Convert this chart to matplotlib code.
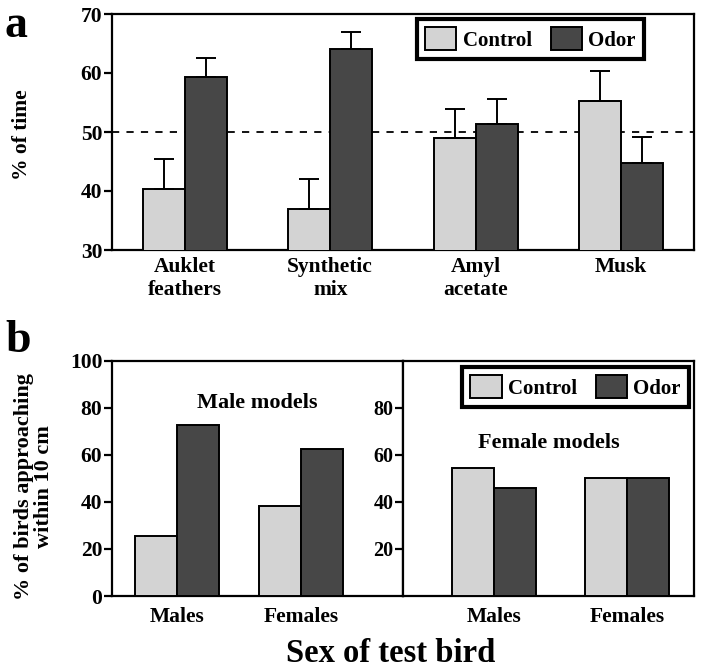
import numpy as np
import matplotlib
matplotlib.use("Agg")
import matplotlib.pyplot as plt

plt.rcParams['font.family'] = ['Liberation Serif', 'DejaVu Serif']
plt.rcParams['font.weight'] = 'bold'

# panel a data
odorants = ['Auklet\nfeathers', 'Synthetic\nmix', 'Amyl\nacetate', 'Musk']
ctrl_a = [40.3, 36.9, 48.9, 55.3]
ctrl_a_err = [5.2, 5.2, 5.0, 5.1]
odor_a = [59.3, 64.1, 51.3, 44.8]
odor_a_err = [3.2, 2.8, 4.3, 4.4]

# panel b data
sexes = ['Males', 'Females']
male_ctrl = [25.7, 38.3]
male_odor = [72.8, 62.4]
female_ctrl = [54.6, 50.4]
female_odor = [45.8, 50.4]

c_ctrl = '#d3d3d3'
c_odor = '#474747'
W, H = 701, 670

fig = plt.figure(figsize=(W / 100, H / 100), dpi=100)


def px_axes(x0, y0, x1, y1):
    return fig.add_axes([x0 / W, 1 - y1 / H, (x1 - x0) / W, (y1 - y0) / H])


def style(ax, lsize=15.5):
    for s in ax.spines.values():
        s.set_linewidth(1.6)
    ax.tick_params(axis='y', direction='out', length=6, width=1.6, labelsize=lsize, pad=1)
    ax.tick_params(axis='x', length=0, labelsize=15.5)


leg_kw = dict(ncol=2, fontsize=15, fancybox=False, edgecolor='black', handlelength=1.5,
              handleheight=1.3, handletextpad=0.3, columnspacing=0.9, borderpad=0.4,
              borderaxespad=0, framealpha=1)

# ---- panel a ----
ax = px_axes(112, 14, 694, 250)
x = np.arange(len(odorants)) + 0.5
bw = 0.29
ekw = dict(elinewidth=1.4, capthick=1.4, ecolor='black')
ax.bar(x - bw / 2, ctrl_a, bw, color=c_ctrl, edgecolor='black', linewidth=1.4,
       yerr=[np.zeros(4), ctrl_a_err], capsize=7, error_kw=ekw, label='Control', zorder=3)
ax.bar(x + bw / 2, odor_a, bw, color=c_odor, edgecolor='black', linewidth=1.4,
       yerr=[np.zeros(4), odor_a_err], capsize=7, error_kw=ekw, label='Odor', zorder=3)
ax.axhline(50, color='black', linestyle=(0, (4, 4)), linewidth=1.3, zorder=1)
ax.set_ylim(30, 70)
ax.set_xlim(0, 4)
ax.set_yticks([30, 40, 50, 60, 70])
ax.set_xticks(x)
ax.set_xticklabels(odorants, linespacing=1.2)
style(ax)
ax.tick_params(axis='x', pad=5)
leg = ax.legend(loc='upper right', bbox_to_anchor=(0.914, 0.979), **leg_kw)
leg.get_frame().set_linewidth(3)

fig.text(22 / W, 1 - 135 / H, '% of time', rotation=90, ha='center', va='center', fontsize=15.5)
fig.text(5 / W, 1 - 37 / H, 'a', fontsize=33, ha='left', va='baseline')

# ---- panel b, male models ----
axl = px_axes(112, 361, 403, 596)
xb = np.arange(len(sexes))
bwl = 0.339
axl.bar(xb - bwl / 2, male_ctrl, bwl, color=c_ctrl, edgecolor='black', linewidth=1.4, zorder=3)
axl.bar(xb + bwl / 2, male_odor, bwl, color=c_odor, edgecolor='black', linewidth=1.4, zorder=3)
axl.set_ylim(0, 100)
axl.set_xlim(-0.524, 1.823)
axl.set_yticks([0, 20, 40, 60, 80, 100])
axl.set_xticks(xb)
axl.set_xticklabels(sexes)
style(axl)
axl.tick_params(axis='x', pad=8)
axl.text(0.5, 0.82, 'Male models', transform=axl.transAxes, ha='center', va='center', fontsize=16)

# ---- panel b, female models ----
axr = px_axes(403, 361, 694, 596)
bwr = 0.316
axr.bar(xb - bwr / 2, female_ctrl, bwr, color=c_ctrl, edgecolor='black', linewidth=1.4,
        zorder=3, label='Control')
axr.bar(xb + bwr / 2, female_odor, bwr, color=c_odor, edgecolor='black', linewidth=1.4,
        zorder=3, label='Odor')
axr.set_ylim(0, 100)
axr.set_xlim(-0.684, 1.504)
axr.set_yticks([20, 40, 60, 80])
axr.set_xticks(xb)
axr.set_xticklabels(sexes)
style(axr, lsize=14.5)
axr.tick_params(axis='x', pad=8)
axr.text(0.5, 0.65, 'Female models', transform=axr.transAxes, ha='center', va='center', fontsize=16)
leg2 = axr.legend(loc='upper right', bbox_to_anchor=(0.983, 0.974), **leg_kw)
leg2.get_frame().set_linewidth(3)

fig.text(34 / W, 1 - 487 / H, '% of birds approaching\nwithin 10 cm', rotation=90,
         ha='center', va='center', fontsize=16, linespacing=1.0)
fig.text(5 / W, 1 - 352 / H, 'b', fontsize=33, ha='left', va='baseline')
fig.text(391 / W, 1 - 654 / H, 'Sex of test bird', ha='center', va='center', fontsize=23.5)

fig.savefig('out.png', dpi=100)
